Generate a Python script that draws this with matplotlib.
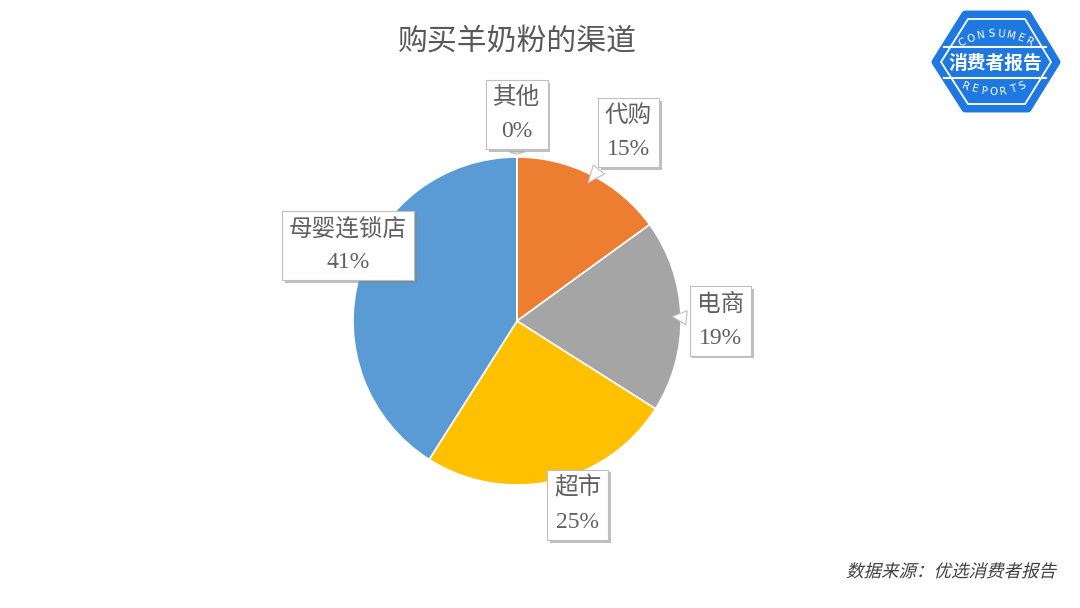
import numpy as np
import matplotlib.pyplot as plt
import matplotlib.patheffects as pe
from matplotlib.patches import Polygon, PathPatch
from matplotlib.textpath import TextPath
from matplotlib.font_manager import FontProperties
from matplotlib.transforms import Affine2D, IdentityTransform

plt.rcParams['font.family'] = ['Noto Sans CJK SC', 'DejaVu Sans']

# data
channels = ['代购', '电商', '超市', '母婴连锁店', '其他']
shares = [15, 19, 25, 41, 0]
colors = ['#ED7D31', '#A5A5A5', '#FFC000', '#5B9BD5', '#7F7F7F']
# label box centres (pie units)
label_pos = [(0.68, 1.15), (1.24, 0.0), (0.37, -1.12), (-1.03, 0.46), (0.0, 1.26)]

title = '购买羊奶粉的渠道'
source = '数据来源：优选消费者报告'

W, H = 1080, 608
cx, cy, R = 517, 321, 164

fig = plt.figure(figsize=(W / 100, H / 100), dpi=100)
fig.patch.set_facecolor('white')
ax = fig.add_axes([0, 0, 1, 1])

wedges, _ = ax.pie(shares, colors=colors, startangle=90, counterclock=False,
                   radius=1.0, wedgeprops=dict(edgecolor='white', linewidth=1.2))
ax.set_aspect('auto')
ax.set_xlim(-cx / R, (W - cx) / R)
ax.set_ylim(-(H - cy) / R, cy / R)
ax.axis('off')

txt_font = ['Liberation Serif', 'Noto Sans CJK SC']
for i, (name, v) in enumerate(zip(channels, shares)):
    w = wedges[i]
    mid = np.deg2rad((w.theta1 + w.theta2) / 2)
    tx, ty = label_pos[i]
    px, py = 0.93 * np.cos(mid), 0.93 * np.sin(mid)
    if v == 0:
        px, py = 0.0, 1.0
    t = ax.annotate(f'{name}\n{v}%', xy=(px, py), xytext=(tx, ty),
                    ha='center', va='center', fontsize=17, color='#606060',
                    family=txt_font, fontweight='light', linespacing=1.75,
                    bbox=dict(boxstyle='square,pad=0.3', fc='white', ec='#BFBFBF', lw=0.8),
                    arrowprops=dict(arrowstyle='wedge,tail_width=0.6,shrink_factor=0.5',
                                    fc='white', ec='#BFBFBF', lw=0.8))
    t.get_bbox_patch().set_path_effects([
        pe.SimplePatchShadow(offset=(2, -2), shadow_rgbFace='#808080', alpha=0.5), pe.Normal()])

fig.text(517 / W, 1 - 41 / H, title, ha='center', va='center', fontsize=21.5,
         color='#595959', fontweight='light')

# italic-looking source line (skewed glyph outlines)
sp = TextPath((0, 0), source, size=17.5,
              prop=FontProperties(family='Noto Sans CJK SC', weight='light'))
ext = sp.get_extents()
tr = Affine2D().skew_deg(14, 0).translate(1055 - ext.x1, H - 577) + IdentityTransform()
fig.patches.append(PathPatch(sp, transform=tr, fc='#404040', ec='none', figure=fig))

# logo
lax = fig.add_axes([0, 0, 1, 1])
lax.set_xlim(0, W)
lax.set_ylim(H, 0)
lax.axis('off')
lax.patch.set_alpha(0)
blue = '#1F78E0'
hexa = [(965, 14), (1028, 14), (1057, 62), (1028, 109), (965, 109), (935, 62)]
lax.add_patch(Polygon(hexa, closed=True, fc=blue, ec=blue, lw=5, joinstyle='round'))
inner = [(968, 19), (1025, 19), (1051, 62), (1025, 104), (968, 104), (941, 62)]
lax.add_patch(Polygon(inner, closed=True, fc='none', ec='white', lw=1.3, joinstyle='round'))
lax.plot([944, 1046], [47, 47], color='white', lw=1.5)
lax.plot([944, 1046], [78, 78], color='white', lw=1.5)
lax.text(995, 63, '消费者报告', ha='center', va='center', fontsize=13.5,
         color='white', fontweight='bold')
word = 'CONSUMER'
for k, ch in enumerate(word):
    th = np.deg2rad(-28 + 56 * k / (len(word) - 1))
    lax.text(996 + 72 * np.sin(th), 106 - 72 * np.cos(th), ch, ha='center', va='center',
             fontsize=7.5, color='white', rotation=-np.rad2deg(th), family='DejaVu Sans')
word = 'REPORTS'
for k, ch in enumerate(word):
    th = np.deg2rad(-23 + 46 * k / (len(word) - 1))
    lax.text(994 + 72 * np.sin(th), 20 + 72 * np.cos(th), ch, ha='center', va='center',
             fontsize=7.5, color='white', rotation=np.rad2deg(th), family='DejaVu Sans')

fig.savefig('out.png', dpi=100, facecolor='white')
